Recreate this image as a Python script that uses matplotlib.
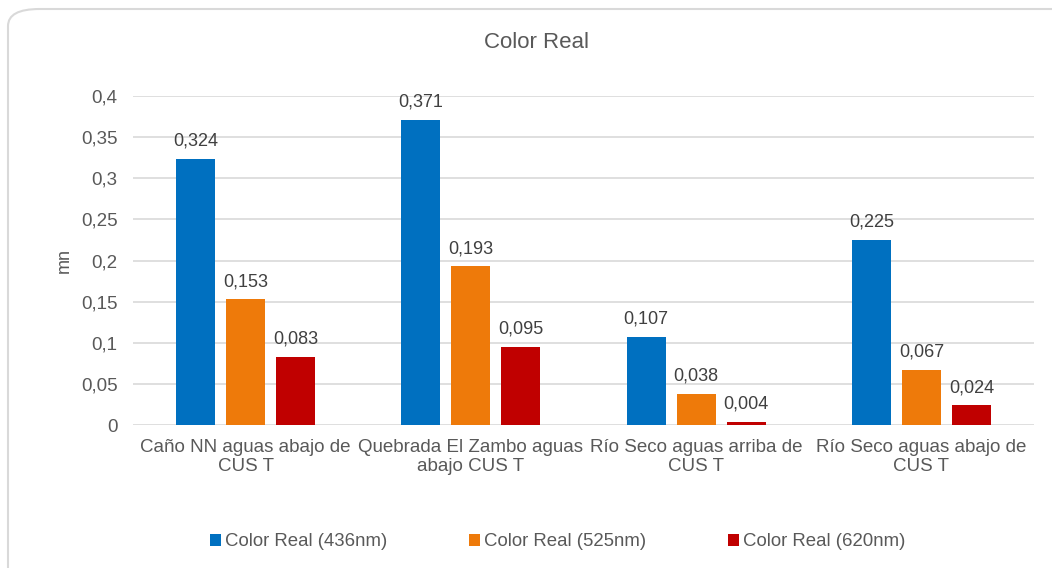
import numpy as np
import matplotlib.pyplot as plt
from matplotlib.patches import FancyBboxPatch

plt.rcParams['font.family'] = ['Liberation Sans', 'DejaVu Sans']

# datos
categorias = ['Caño NN aguas abajo de\nCUS T', 'Quebrada El Zambo aguas\nabajo CUS T',
              'Río Seco aguas arriba de\nCUS T', 'Río Seco aguas abajo de\nCUS T']
series = ['Color Real (436nm)', 'Color Real (525nm)', 'Color Real (620nm)']
v436 = [0.324, 0.371, 0.107, 0.225]
v525 = [0.153, 0.193, 0.038, 0.067]
v620 = [0.083, 0.095, 0.004, 0.024]
colores = ['#0070C0', '#EE7A0A', '#C00000']
yticks = [0, 0.05, 0.1, 0.15, 0.2, 0.25, 0.3, 0.35, 0.4]

gris = '#595959'

fig = plt.figure(figsize=(10.52, 5.68), dpi=100)
# marco redondeado
marco = FancyBboxPatch((8/1052, -20/568), 1080/1052, (568-9+20)/568,
                       boxstyle='round,pad=0,rounding_size=0.03',
                       transform=fig.transFigure, facecolor='white',
                       edgecolor='#D9D9D9', linewidth=1.5, zorder=-10)
fig.patches.append(marco)

ax = fig.add_axes([133/1052, 1-425/568, (1034-133)/1052, (425-96)/568])
ax.set_facecolor('none')

x = np.arange(len(categorias))
w = 0.173
paso = 0.222
for i, (vals, nombre, c) in enumerate(zip([v436, v525, v620], series, colores)):
    pos = x + (i-1)*paso
    barras = ax.bar(pos, vals, w, color=c, label=nombre, zorder=3)
    for b, v in zip(barras, vals):
        ax.text(b.get_x()+b.get_width()/2, v+0.011, ('%g' % v).replace('.', ','),
                ha='center', va='bottom', fontsize=13, color='#404040')

ax.set_xlim(-0.5, len(categorias)-0.5)
ax.set_ylim(0, 0.4)
ax.set_yticks(yticks)
ax.set_yticklabels([('%g' % t).replace('.', ',') for t in yticks])
ax.set_xticks(x)
ax.set_xticklabels(categorias, linespacing=1.2)
ax.tick_params(axis='both', length=0, labelsize=13.5, labelcolor=gris)
ax.tick_params(axis='y', pad=11)
ax.tick_params(axis='x', pad=10)
ax.grid(axis='y', color='#D9D9D9', linewidth=1.2, zorder=0)
for s in ax.spines.values():
    s.set_visible(False)
ax.set_ylabel('mn', fontsize=13, color=gris, labelpad=6)
fig.text(537/1052, 1-43/568, 'Color Real', ha='center', va='center', fontsize=16, color=gris)

fig.legend(loc='center', bbox_to_anchor=(558/1052, 1-542/568), ncol=3, frameon=False,
           fontsize=13.4, handlelength=0.55, handleheight=0.55, handletextpad=0.25,
           columnspacing=4.4, labelcolor=gris)

plt.savefig('out.png', dpi=100)
